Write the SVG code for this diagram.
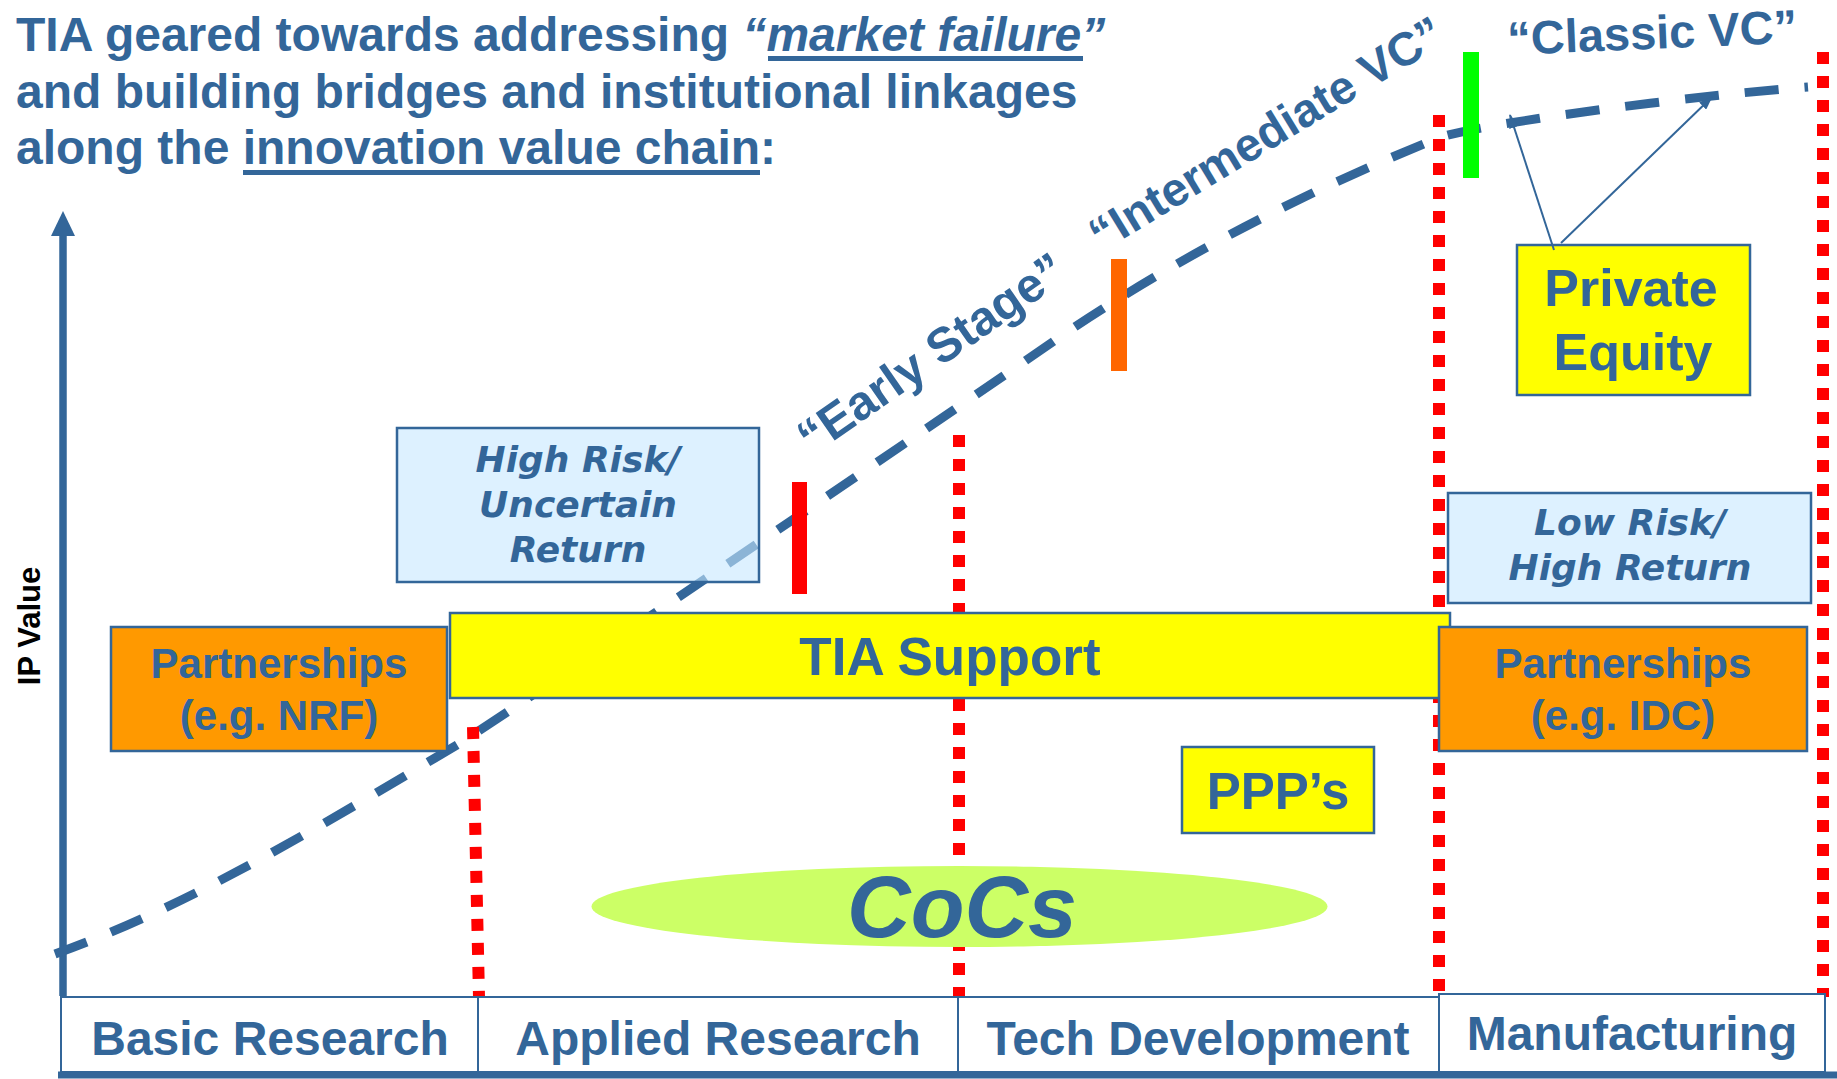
<svg xmlns="http://www.w3.org/2000/svg" width="1837" height="1079" viewBox="0 0 1837 1079">
  <defs>
    <style>
      .t { font-family: "Liberation Sans", Arial, sans-serif; font-weight: bold; fill: #336699; }
      .ti { font-family: "Liberation Sans", Arial, sans-serif; font-weight: bold; font-style: italic; fill: #336699; }
      .wide { font-family: "DejaVu Sans", Verdana, sans-serif; font-weight: bold; font-style: italic; fill: #336699; font-size: 36px; }
      .box { stroke: #336699; stroke-width: 2.5; }
      .stage { fill: #ffffff; stroke: #336699; stroke-width: 2; }
      .yellow { fill: #FFFF00; }
      .orange { fill: #FF9900; }
      .risk { fill: #C7E7FF; fill-opacity: 0.6; }
      .divider { fill: none; stroke: #FF0000; stroke-width: 12; stroke-dasharray: 12 12; }
      .mid { text-anchor: middle; }
    </style>
    <marker id="arrowhead" viewBox="0 0 14 10" refX="13" refY="5" markerWidth="14" markerHeight="10" markerUnits="userSpaceOnUse" orient="auto">
      <path d="M0,0 L14,5 L0,10 z" fill="#336699"/>
    </marker>
  </defs>

  <rect width="1837" height="1079" fill="#ffffff"/>

  <!-- vertical IP value axis -->
  <g id="axis">
    <line x1="63" y1="996" x2="63" y2="234" stroke="#336699" stroke-width="7.5"/>
    <polygon points="63,211 51,236 75,236" fill="#336699"/>
    <text class="t" font-size="31" fill="#000000" style="fill:#000000" transform="translate(40,626) rotate(-90)" text-anchor="middle">IP Value</text>
  </g>

  <!-- IP value curve along the chain -->
  <g id="value-curve">
    <path d="M55,954 C192,905 327,822 462,742 C612,643 917,436 1067,332 C1192,249 1316,187 1441,137 C1490,122 1700,95 1808,87" fill="none" stroke="#336699" stroke-width="9" stroke-dasharray="34 26"/>
  </g>

  <!-- stage boundary markers -->
  <g id="stage-boundaries">
    <line class="divider" x1="473" y1="727" x2="479" y2="997"/>
    <line class="divider" x1="959" y1="435" x2="959" y2="997"/>
    <line class="divider" x1="1439" y1="115" x2="1439" y2="994"/>
    <line class="divider" x1="1823" y1="52" x2="1823" y2="997"/>
  </g>

  <!-- funding stage bars -->
  <g id="bar-early"><rect x="792" y="482" width="15" height="112" fill="#FF0000"/></g>
  <g id="bar-intermediate"><rect x="1111" y="259" width="16" height="112" fill="#FF6600"/></g>
  <g id="bar-classic"><rect x="1463" y="52" width="16" height="126" fill="#00FF00"/></g>

  <g id="high-risk">
    <rect class="risk box" x="397" y="428" width="362" height="154"/>
    <text class="wide mid" x="578" y="472">High Risk/</text>
    <text class="wide mid" x="578" y="517">Uncertain</text>
    <text class="wide mid" x="578" y="562">Return</text>
  </g>

  <g id="tia-support">
    <rect class="yellow box" x="450" y="613" width="1000" height="85"/>
    <text class="t mid" x="950" y="675" font-size="53">TIA Support</text>
  </g>

  <g id="partnerships-nrf">
    <rect class="orange box" x="111" y="627" width="336" height="124"/>
    <text class="t mid" x="279" y="678" font-size="42">Partnerships</text>
    <text class="t mid" x="279" y="730" font-size="42">(e.g. NRF)</text>
  </g>

  <g id="partnerships-idc">
    <rect class="orange box" x="1439" y="627" width="368" height="124"/>
    <text class="t mid" x="1623" y="678" font-size="42">Partnerships</text>
    <text class="t mid" x="1623" y="730" font-size="42">(e.g. IDC)</text>
  </g>

  <g id="low-risk">
    <rect class="risk box" x="1448" y="493" width="363" height="110"/>
    <text class="wide mid" x="1630" y="535">Low Risk/</text>
    <text class="wide mid" x="1630" y="580">High Return</text>
  </g>

  <g id="private-equity">
    <rect class="yellow box" x="1517" y="245" width="233" height="150"/>
    <text class="t mid" x="1631" y="306" font-size="52">Private</text>
    <text class="t mid" x="1633" y="370" font-size="52">Equity</text>
  </g>

  <g id="ppps">
    <rect class="yellow box" x="1182" y="747" width="192" height="86"/>
    <text class="t mid" x="1278" y="809" font-size="51">PPP’s</text>
  </g>

  <g id="cocs">
    <ellipse cx="959.5" cy="906.5" rx="368" ry="40.5" fill="#CCFF66"/>
    <text class="ti mid" x="962" y="937" font-size="88">CoCs</text>
  </g>

  <!-- private equity pointers -->
  <g id="connectors">
    <line x1="1554" y1="250" x2="1510" y2="115" stroke="#336699" stroke-width="2" marker-end="url(#arrowhead)"/>
    <line x1="1561" y1="243" x2="1712" y2="97" stroke="#336699" stroke-width="2" marker-end="url(#arrowhead)"/>
  </g>

  <!-- funding stage labels -->
  <g id="label-early">
    <text class="t" font-size="48.5" transform="translate(812,456) rotate(-34.7)">“Early Stage”</text>
  </g>
  <g id="label-intermediate">
    <text class="t" font-size="47" transform="translate(1101.5,252.5) rotate(-31.3)">“Intermediate VC”</text>
  </g>
  <g id="label-classic">
    <text class="t" font-size="47" transform="translate(1508,55) rotate(-2.45)">“Classic VC”</text>
  </g>

  <!-- heading -->
  <g id="heading">
    <text class="t" x="16" y="51" font-size="48">TIA geared towards addressing <tspan font-style="italic">“market failure”</tspan></text>
    <rect x="768" y="56" width="315" height="5" fill="#336699"/>
    <text class="t" x="16" y="108" font-size="48">and building bridges and institutional linkages</text>
    <text class="t" x="16" y="164" font-size="48">along the innovation value chain:</text>
    <rect x="243" y="170" width="517" height="5" fill="#336699"/>
  </g>

  <!-- innovation value chain stages -->
  <g id="stage-basic">
    <rect class="stage" x="61" y="997" width="417" height="75"/>
    <text class="t mid" x="270" y="1055" font-size="48">Basic Research</text>
  </g>
  <g id="stage-applied">
    <rect class="stage" x="478" y="997" width="480" height="75"/>
    <text class="t mid" x="718" y="1055" font-size="48">Applied Research</text>
  </g>
  <g id="stage-tech">
    <rect class="stage" x="958" y="997" width="481" height="75"/>
    <text class="t mid" x="1198" y="1055" font-size="48">Tech Development</text>
  </g>
  <g id="stage-manufacturing">
    <rect class="stage" x="1439" y="994" width="386" height="78"/>
    <text class="t mid" x="1632" y="1050" font-size="48">Manufacturing</text>
  </g>
  <g id="base-axis">
    <line x1="58" y1="1075" x2="1837" y2="1075" stroke="#336699" stroke-width="7"/>
  </g>
</svg>
